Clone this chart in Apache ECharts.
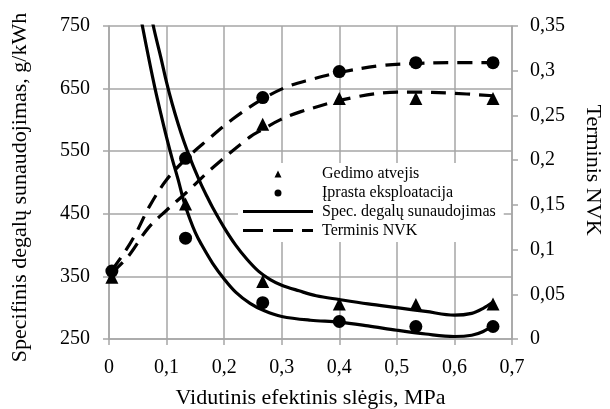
<!DOCTYPE html>
<html>
<head>
<meta charset="utf-8">
<script src="https://cdn.jsdelivr.net/npm/echarts@6/dist/echarts.min.js"></script>
<style>
html,body{margin:0;padding:0;background:#fff;}
#chart{width:610px;height:409px;}
</style>
</head>
<body>
<div id="chart"></div>
<script>
// ---- data ----
const xTickLabels = ['0', '0,1', '0,2', '0,3', '0,4', '0,5', '0,6', '0,7'];
const leftTickLabels = ['250', '350', '450', '550', '650', '750'];
const rightTickLabels = ['0', '0,05', '0,1', '0,15', '0,2', '0,25', '0,3', '0,35'];

const legendNames = ['Gedimo atvejis', 'Įprasta eksploatacija', 'Spec. degalų sunaudojimas', 'Terminis NVK'];

// measured points (x = mean effective pressure, MPa)
const xPoints = [0.005, 0.133, 0.267, 0.4, 0.533, 0.667];
const sfcFault = [null, null, 342, 306, 305, 306];        // g/kWh, triangles
const sfcNormal = [null, 411, 308, 278, 270, 270];        // g/kWh, circles
const nvkFault = [0.069, 0.151, 0.24, 0.269, 0.269, 0.269];   // triangles
const nvkNormal = [0.076, 0.202, 0.27, 0.299, 0.309, 0.309];  // circles

// trend curves
const sfcNormalCurveX = [0.05, 0.058, 0.07, 0.08, 0.09, 0.1, 0.11, 0.12, 0.13, 0.14, 0.15, 0.16, 0.18, 0.2, 0.22, 0.245, 0.27, 0.3, 0.35, 0.4, 0.45, 0.5, 0.55, 0.6, 0.63, 0.65, 0.667];
const sfcNormalCurveY = [790, 750, 694, 650, 610, 572, 537, 505, 470, 443, 420, 402, 371, 346, 325, 307, 295, 286, 280, 277, 271, 264, 258, 254, 256, 262, 272];

const sfcFaultCurveX = [0.068, 0.077, 0.09, 0.1, 0.11, 0.12, 0.13, 0.14, 0.15, 0.16, 0.17, 0.18, 0.2, 0.22, 0.24, 0.26, 0.28, 0.3, 0.33, 0.36, 0.4, 0.45, 0.5, 0.55, 0.6, 0.63, 0.65, 0.667];
const sfcFaultCurveY = [795, 750, 700, 660, 625, 594, 566, 541, 518, 497, 478, 460, 428, 400, 377, 358, 345, 336, 327, 319, 313, 306, 300, 294, 288, 291, 299, 309];

const nvkNormalCurveX = [0.005, 0.025, 0.045, 0.07, 0.1, 0.133, 0.17, 0.215, 0.266, 0.309, 0.35, 0.4, 0.476, 0.53, 0.592, 0.667];
const nvkNormalCurveY = [0.077, 0.095, 0.116, 0.148, 0.178, 0.201, 0.222, 0.246, 0.268, 0.282, 0.29, 0.298, 0.306, 0.308, 0.309, 0.309];

const nvkFaultCurveX = [0.005, 0.033, 0.068, 0.1, 0.133, 0.181, 0.245, 0.266, 0.297, 0.332, 0.424, 0.5, 0.53, 0.592, 0.667];
const nvkFaultCurveY = [0.074, 0.092, 0.124, 0.144, 0.163, 0.192, 0.226, 0.234, 0.245, 0.254, 0.27, 0.276, 0.276, 0.275, 0.272];

// ---- build chart ----
const FONT = '"Liberation Serif", "Times New Roman", serif';
const GRID = '#a6a6a6';
const zip = (xs, ys) => xs.map((x, i) => [x, ys[i]]);
const pts = (ys) => xPoints.map((x, i) => [x, ys[i]]).filter(p => p[1] != null);

// legend icons: full 70x8 bounding box so nothing gets stretched
const BOX = 'M0,0L0.01,0Z M70,8L69.99,8Z ';
const ICONS = {
  tri: 'path://' + BOX + 'M31.5,8L35,1L38.5,8Z',
  dot: 'path://' + BOX + 'M31.5,4.5A3.5,3.5,0,1,1,38.5,4.5A3.5,3.5,0,1,1,31.5,4.5Z',
  solid: 'path://' + BOX + 'M0,2.6L70,2.6L70,5.6L0,5.6Z',
  dash: 'path://' + BOX + 'M0,2.6L20,2.6L20,5.6L0,5.6Z M30,2.6L50,2.6L50,5.6L30,5.6Z M59,2.6L70,2.6L70,5.6L59,5.6Z'
};

const chart = echarts.init(document.getElementById('chart'), null, {renderer: 'canvas'});

const curve = (name, xs, ys, axis, dashed) => ({
  name: name, type: 'line', yAxisIndex: axis, data: zip(xs, ys),
  symbol: 'none', smooth: 0.35, clip: true, z: 2,
  lineStyle: {color: '#000', width: 3.2, type: dashed ? [15, 9] : 'solid', cap: 'butt'},
  itemStyle: {color: '#000'}
});
const marks = (name, ys, axis, sym, size) => ({
  name: name, type: 'scatter', yAxisIndex: axis, data: pts(ys),
  symbol: sym, symbolSize: size, z: 5,
  itemStyle: {color: '#000', opacity: 1}
});

chart.setOption({
  animation: false,
  backgroundColor: '#fff',
  grid: {left: 109, right: 98, top: 26, bottom: 70, containLabel: false, outerBoundsMode: 'none'},
  xAxis: {
    type: 'value', min: 0, max: 0.7, interval: 0.1,
    name: 'Vidutinis efektinis slėgis, MPa', nameLocation: 'middle', nameGap: 48,
    nameTextStyle: {fontFamily: FONT, fontSize: 22, color: '#000'},
    axisLine: {show: true, lineStyle: {color: GRID, width: 1.5}},
    axisTick: {show: true, inside: false, length: 6, lineStyle: {color: GRID, width: 1.5}},
    axisLabel: {fontFamily: FONT, fontSize: 20, color: '#000', margin: 19,
      formatter: (v, i) => xTickLabels[i]},
    splitLine: {show: true, lineStyle: {color: GRID, width: 1.5}}
  },
  yAxis: [
    {
      type: 'value', min: 250, max: 750, interval: 100, position: 'left',
      name: 'Specifinis degalų sunaudojimas, g/kWh', nameLocation: 'middle', nameGap: 78,
      nameTextStyle: {fontFamily: FONT, fontSize: 22, color: '#000', padding: [0, 10, 0, 0]},
      axisLine: {show: true, lineStyle: {color: GRID, width: 1.5}},
      axisTick: {show: true, inside: false, length: 6, lineStyle: {color: GRID, width: 1.5}},
      axisLabel: {fontFamily: FONT, fontSize: 20, color: '#000', margin: 19,
        formatter: (v, i) => leftTickLabels[i]},
      splitLine: {show: true, lineStyle: {color: GRID, width: 1.5}}
    },
    {
      type: 'value', min: 0, max: 0.35, interval: 0.05, position: 'right',
      name: 'Terminis NVK', nameLocation: 'middle', nameGap: 70, nameRotate: -90,
      nameTextStyle: {fontFamily: FONT, fontSize: 22, color: '#000', padding: [0, 25, 0, 0]},
      axisLine: {show: true, lineStyle: {color: GRID, width: 1.5}},
      axisTick: {show: true, inside: false, length: 6, lineStyle: {color: GRID, width: 1.5}},
      axisLabel: {fontFamily: FONT, fontSize: 20, color: '#000', margin: 18,
        formatter: (v, i) => rightTickLabels[i]},
      splitLine: {show: false}
    }
  ],
  legend: {
    orient: 'vertical', left: 238, top: 163, padding: [1, 8, 2, 5], itemGap: 0,
    itemWidth: 70, itemHeight: 8, backgroundColor: '#fff',
    textStyle: {fontFamily: FONT, fontSize: 16, color: '#000', lineHeight: 19, padding: [0, 0, 0, 4]},
    data: [
      {name: legendNames[0], icon: ICONS.tri},
      {name: legendNames[1], icon: ICONS.dot},
      {name: legendNames[2], icon: ICONS.solid},
      {name: legendNames[3], icon: ICONS.dash}
    ]
  },
  series: [
    curve(legendNames[2], sfcNormalCurveX, sfcNormalCurveY, 0, false),
    curve(legendNames[2], sfcFaultCurveX, sfcFaultCurveY, 0, false),
    curve(legendNames[3], nvkNormalCurveX, nvkNormalCurveY, 1, true),
    curve(legendNames[3], nvkFaultCurveX, nvkFaultCurveY, 1, true),
    marks(legendNames[0], sfcFault, 0, 'triangle', 13),
    marks(legendNames[0], nvkFault, 1, 'triangle', 13),
    marks(legendNames[1], sfcNormal, 0, 'circle', 13),
    marks(legendNames[1], nvkNormal, 1, 'circle', 13)
  ]
});
</script>
</body>
</html>
